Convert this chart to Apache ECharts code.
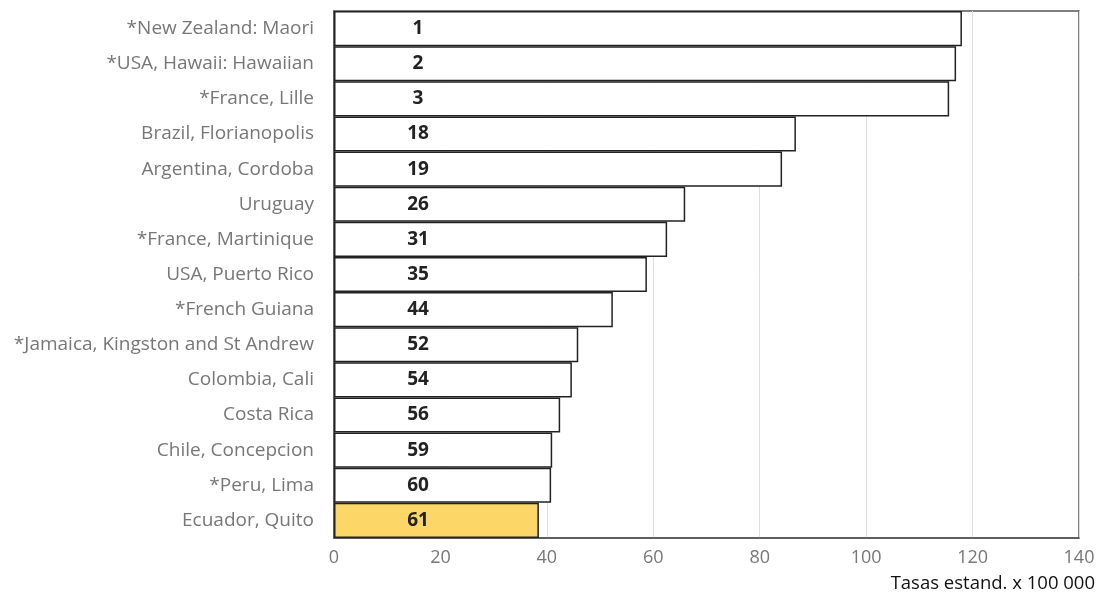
<!DOCTYPE html>
<html><head><meta charset="utf-8">
<script src="https://cdn.jsdelivr.net/npm/echarts@6/dist/echarts.min.js"></script>
<style>html,body{margin:0;padding:0;background:#fff}#c{width:1101px;height:596px}</style>
</head><body><div id="c"></div>
<script>
const categories = ["*New Zealand: Maori","*USA, Hawaii: Hawaiian","*France, Lille","Brazil, Florianopolis","Argentina, Cordoba","Uruguay","*France, Martinique","USA, Puerto Rico","*French Guiana","*Jamaica, Kingston and St Andrew","Colombia, Cali","Costa Rica","Chile, Concepcion","*Peru, Lima","Ecuador, Quito"];
const values = [118.0,116.9,115.6,86.8,84.2,66.0,62.6,58.8,52.4,45.9,44.7,42.5,41.0,40.8,38.5];
const ranks = [1,2,3,18,19,26,31,35,44,52,54,56,59,60,61];
const highlight = "Ecuador, Quito";
const xTicks = [0,20,40,60,80,100,120,140];
const axisName = "Tasas estand. x 100 000";

const font = "'Open Sans', 'Noto Sans', sans-serif";
const chart = echarts.init(document.getElementById('c'), null, {renderer:'canvas'});
chart.setOption({
  animation:false,
  title:{text:axisName, right:6, top:574, padding:0, textStyle:{fontFamily:font, fontSize:18.5, fontWeight:'normal', color:'#111'}},
  grid:{left:334, right:22, top:11, bottom:58, show:true, borderColor:'#555', borderWidth:1.5},
  xAxis:{type:'value', min:xTicks[0], max:xTicks[xTicks.length-1], interval:20,
    axisLine:{show:true, lineStyle:{color:'#555', width:1.5}}, axisTick:{show:false},
    axisLabel:{color:'#777', fontFamily:font, fontSize:18, margin:11},
    splitLine:{show:true, lineStyle:{color:'#ddd', width:1}}},
  yAxis:{type:'category', data:categories, inverse:true,
    axisLine:{show:true, lineStyle:{color:'#555', width:1.5}}, axisTick:{show:false},
    axisLabel:{color:'#777', fontFamily:font, fontSize:19, margin:20}},
  series:[{type:'bar', barCategoryGap:'0%',
    data: values.map((v,i)=>({value:v, itemStyle:{color: categories[i]===highlight ? '#fcd667' : '#ffffff'}})),
    itemStyle:{borderColor:'#222', borderWidth:1.5},
    label:{show:true, position:[84,'50%'], align:'center', verticalAlign:'middle',
      formatter:p=>String(ranks[p.dataIndex]), color:'#222', fontFamily:font, fontSize:19, fontWeight:'bold'}
  }]
});
</script></body></html>
